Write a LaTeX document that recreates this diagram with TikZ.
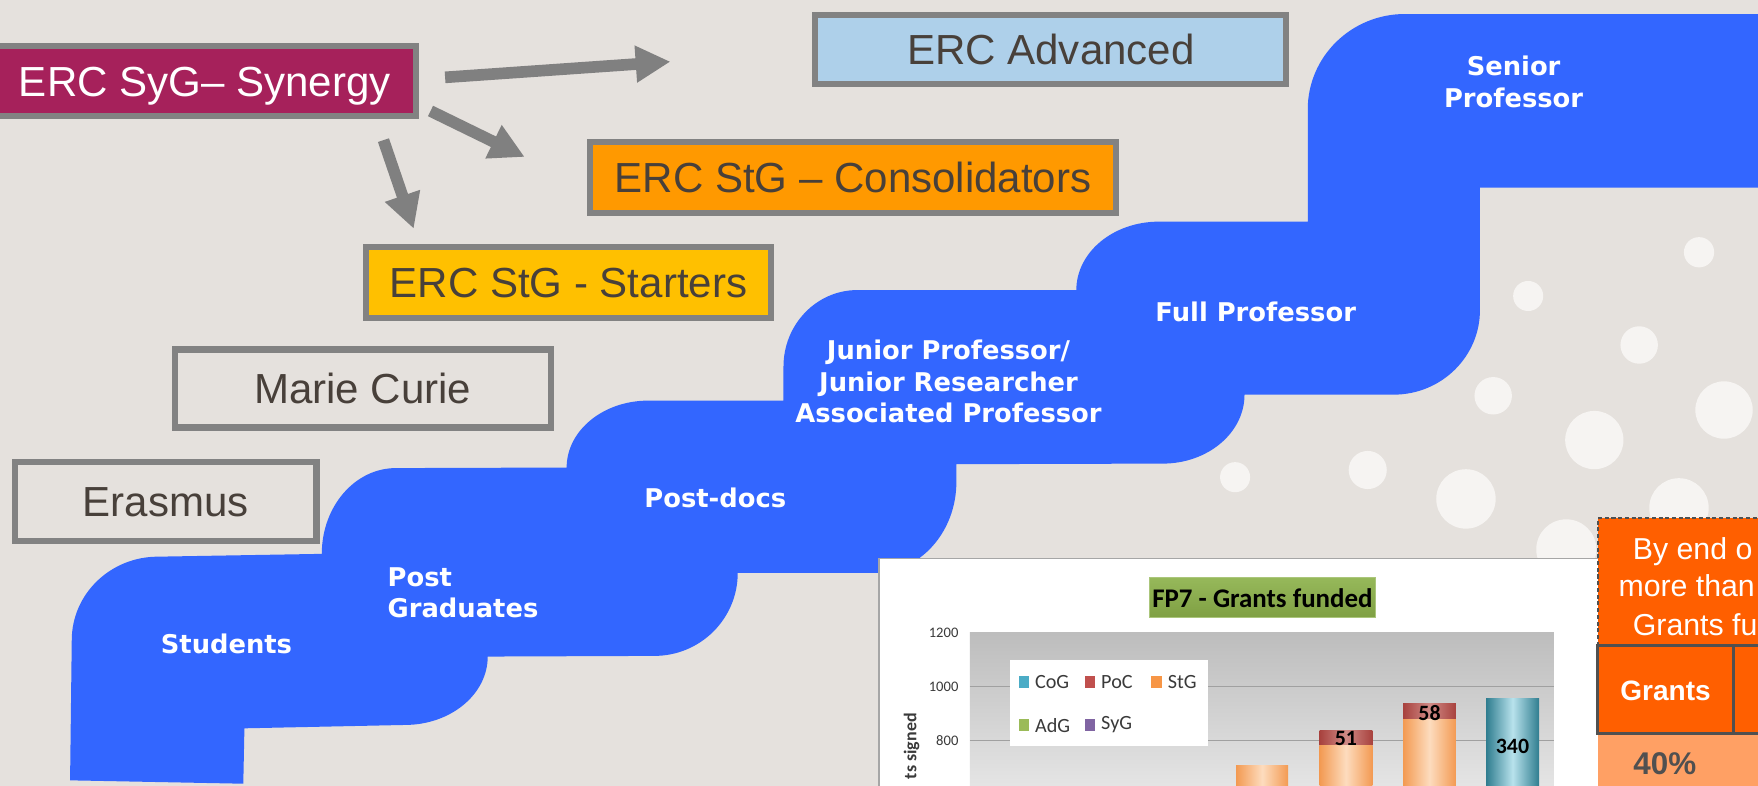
\documentclass[tikz,border=0pt]{standalone}
\usepackage{fontspec}
\setmainfont{Liberation Sans}
\newfontfamily\stepfont{DejaVu Sans}
\newfontfamily\chartfont{Carlito}
\usetikzlibrary{arrows.meta}
\definecolor{bg}{HTML}{E5E1DD}
\definecolor{boxgray}{HTML}{828282}
\definecolor{txtdark}{HTML}{48403A}
\definecolor{sygfill}{HTML}{A6215B}
\definecolor{advfill}{HTML}{AED0EA}
\definecolor{consfill}{HTML}{FF9900}
\definecolor{startfill}{HTML}{FFC000}
\definecolor{arrowgray}{HTML}{808080}
\definecolor{stairblue}{HTML}{3366FF}
\definecolor{dotcol}{HTML}{F6F4F2}
\definecolor{chartborder}{HTML}{A6A6A6}
\definecolor{gridcol}{HTML}{A0A0A0}
\definecolor{orgedge}{HTML}{F39A52}
\definecolor{orgmid}{HTML}{FDDCBE}
\definecolor{capedge}{HTML}{A8423E}
\definecolor{capmid}{HTML}{D08A86}
\definecolor{tealedge}{HTML}{2F7D8F}
\definecolor{tealmid}{HTML}{B8E2EC}
\definecolor{cogcol}{HTML}{4BACC6}
\definecolor{poccol}{HTML}{C0504D}
\definecolor{stgcol}{HTML}{F79646}
\definecolor{adgcol}{HTML}{9BBB59}
\definecolor{sygcol}{HTML}{8064A2}
\definecolor{greentop}{HTML}{96B85A}
\definecolor{greenbot}{HTML}{7FA043}
\definecolor{tblorange}{HTML}{FF5F00}
\definecolor{tbllight}{HTML}{FFA064}
\definecolor{tblborder}{HTML}{505050}
\definecolor{chartxt}{HTML}{3A3A3A}
\begin{document}
\begin{tikzpicture}[x=1pt,y=-1pt,
  ercbox/.style={draw=boxgray, line width=5.4pt, inner sep=0pt, text height=26.8pt, text depth=0pt,
    font=\fontsize{37.5}{40}\selectfont, text=txtdark},
  steplabel/.style={text=white, inner sep=0pt, font=\stepfont\bfseries\fontsize{23}{28.2}\selectfont},
  blockarrow/.style={draw=arrowgray, line width=10.4pt, -{Triangle[length=31pt,width=31pt]}},
  dotshape/.style={fill=dotcol, draw=none},
  ylab/.style={anchor=east, inner sep=0pt, text=chartxt, font=\chartfont\fontsize{13}{15}\selectfont},
  legtext/.style={anchor=west, inner sep=0pt, text=chartxt, font=\chartfont\fontsize{18}{20}\selectfont},
  barlab/.style={inner sep=0pt, text=black, font=\chartfont\bfseries\fontsize{19.5}{21}\selectfont},
  tbltext/.style={anchor=base west, inner sep=0pt, text=white, font=\fontsize{27}{30}\selectfont}
]
\useasboundingbox (0,0) rectangle (1568,701);
\fill[bg] (0,0) rectangle (1568,701);

% background dots
\fill[dotshape] (1515.4,225) circle (13.5);
\fill[dotshape] (1363,264) circle (13.4);
\fill[dotshape] (1462,307.7) circle (16.7);
\fill[dotshape] (1331.8,353) circle (16.7);
\fill[dotshape] (1537.7,365.7) circle (25.6);
\fill[dotshape] (1422,392.5) circle (26);
\fill[dotshape] (1219.9,419.2) circle (17);
\fill[dotshape] (1101.6,425.6) circle (13.4);
\fill[dotshape] (1307.5,445) circle (26.5);
\fill[dotshape] (1497.5,453) circle (26.5);
\fill[dotshape] (1397,490) circle (26.8);

% staircase
\fill[stairblue] (62.5,696) -- (217,699) -- (218,649.6) -- (361,646.6)
  .. controls (401.9,646.6) and (435,619.3) .. (435,585.6)
  -- (583.7,585) .. controls (624.7,585) and (658,551.9) .. (658,511)
  -- (780,511) .. controls (820.3,511) and (853,474.7) .. (853,430)
  -- (853,414) -- (1037,413.5) .. controls (1077.3,413.5) and (1110,386) .. (1110,352)
  -- (1243,352) .. controls (1285.5,352) and (1320,318.2) .. (1320,276.5)
  -- (1320,167.4) -- (1580,167.4) -- (1580,12.5) -- (1253,12.5)
  .. controls (1205.2,12.5) and (1166.4,50.6) .. (1166.4,97.5)
  -- (1166.4,197.7) -- (1033.5,197.7) .. controls (992.9,197.7) and (960,225) .. (960,258.7)
  -- (764.7,258.7) .. controls (728.3,258.7) and (698.8,289.3) .. (698.8,327)
  -- (698.8,357.3) -- (578.3,357.3) .. controls (538,357.3) and (505.4,384) .. (505.4,417)
  -- (353,417.5) .. controls (316.5,417.5) and (287,451.8) .. (287,494)
  -- (140.8,496.5) .. controls (98.4,496.5) and (64,529.9) .. (64,571) -- cycle;

% step labels
\node[steplabel, anchor=base] (students) at (202,583) {Students};
\node[steplabel, anchor=north west, align=left] (postgrad) at (345.6,506) {Post\\Graduates};
\node[steplabel, anchor=base] (postdocs) at (638,453) {Post-docs};
\node[steplabel, anchor=north, align=center] (junior) at (846,303) {Junior Professor/\\Junior Researcher\\Associated Professor};
\node[steplabel, anchor=base] (fullprof) at (1120,287) {Full Professor};
\node[steplabel, anchor=north, align=center] (senior) at (1350,50) {Senior\\Professor};

% ERC boxes
\node[ercbox, fill=sygfill, text=white, minimum width=377.3pt, minimum height=62.4pt] (syg) at (182.6,72.5) {ERC SyG\textendash{} Synergy};
\node[ercbox, fill=advfill, minimum width=420pt, minimum height=62.1pt] (adv) at (937.3,44.15) {ERC Advanced};
\node[ercbox, fill=consfill, minimum width=468.8pt, minimum height=62.7pt] (cons) at (760.9,158.35) {ERC StG \textendash{} Consolidators};
\node[ercbox, fill=startfill, minimum width=360.6pt, minimum height=62.6pt] (start) at (507,252) {ERC StG - Starters};
\node[ercbox, minimum width=335.6pt, minimum height=69.6pt] (marie) at (323.5,346.5) {Marie Curie};
\node[ercbox, minimum width=268.9pt, minimum height=70.1pt] (erasmus) at (147.85,447.25) {Erasmus};

% arrows
\coordinate (a1s) at (397,69);
\coordinate (a1e) at (598,55);
\coordinate (a2s) at (384,99);
\coordinate (a2e) at (468,140);
\coordinate (a3s) at (342,125);
\coordinate (a3e) at (369,204);
\draw[blockarrow] (a1s) -- (a1e);
\draw[blockarrow] (a2s) -- (a2e);
\draw[blockarrow] (a3s) -- (a3e);

% chart
\filldraw[fill=white, draw=chartborder, line width=1.2pt] (784,498) rectangle (1440,730);
\shade[top color=black!26, bottom color=black!6] (865,564) rectangle (1386,740);
\draw[gridcol, line width=1pt] (865,612.4) -- (1386,612.4);
\draw[gridcol, line width=1pt] (865,660.6) -- (1386,660.6);
\node[ylab] (y1200) at (855,564) {1200};
\node[ylab] (y1000) at (855,612.4) {1000};
\node[ylab] (y800) at (855,660.6) {800};
\node[rotate=90, anchor=east, inner sep=0pt, text=chartxt, font=\chartfont\bfseries\fontsize{16}{18}\selectfont] (ytitle) at (813,636) {ts signed};
\node[top color=greentop, bottom color=greenbot, draw=greentop!80!white, line width=1pt, minimum width=202pt, minimum height=35.5pt, inner sep=0pt, font=\chartfont\bfseries\fontsize{24}{26}\selectfont] (title) at (1126,533.2) {FP7 - Grants funded};

% legend
\fill[white] (900.6,589) rectangle (1077,665);
\fill[cogcol] (908.6,602.5) rectangle (917.6,613.5);
\fill[poccol] (968,602.5) rectangle (977,613.5);
\fill[stgcol] (1027,602.5) rectangle (1036,613.5);
\fill[adgcol] (908.6,641.2) rectangle (917.6,652.2);
\fill[sygcol] (968,641.2) rectangle (977,652.2);
\node[legtext] (lcog) at (923,608) {CoG};
\node[legtext] (lpoc) at (982,608) {PoC};
\node[legtext] (lstg) at (1041.4,608) {StG};
\node[legtext] (ladg) at (923,646.7) {AdG};
\node[legtext] (lsyg) at (982,646.7) {SyG};

% bars
\shade[left color=orgedge, right color=orgedge, middle color=orgmid] (1102.6,683.2) rectangle (1149,730);
\shade[left color=capedge, right color=capedge, middle color=capmid] (1177,651.7) rectangle (1224,664.5);
\shade[left color=orgedge, right color=orgedge, middle color=orgmid] (1177,664.5) rectangle (1224,730);
\shade[left color=capedge, right color=capedge, middle color=capmid] (1251.5,627.3) rectangle (1298.6,641.3);
\shade[left color=orgedge, right color=orgedge, middle color=orgmid] (1251.5,641.3) rectangle (1298.6,730);
\shade[left color=tealedge, right color=tealedge, middle color=tealmid] (1325.5,622.8) rectangle (1372.8,730);
\node[barlab] (b51) at (1200.5,659) {51};
\node[barlab] (b58) at (1275,635.6) {58};
\node[barlab] (b340) at (1349,666) {340};

% table
\fill[tblorange] (1425,462.3) rectangle (1580,654);
\fill[tbllight] (1425,654) rectangle (1580,730);
\draw[tblborder, line width=1.8pt, dash pattern=on 3.6pt off 2.4pt] (1425,576) -- (1425,462.3) -- (1580,462.3);
\draw[tblborder, line width=2.4pt] (1425,576) rectangle (1546,654);
\draw[tblborder, line width=2.4pt] (1546,576) -- (1580,576);
\draw[tblborder, line width=2.4pt] (1546,654) -- (1580,654);
\node[tbltext] (t1) at (1456.2,498.9) {By end o};
\node[tbltext] (t2) at (1443.4,532.2) {more than};
\node[tbltext] (t3) at (1456.2,566.4) {Grants fu};
\node[anchor=base, inner sep=0pt, text=white, font=\bfseries\fontsize{25}{28}\selectfont] (tgrants) at (1485.5,625) {Grants};
\node[anchor=base west, inner sep=0pt, text=tblborder, font=\bfseries\fontsize{28}{30}\selectfont] (t40) at (1456.6,691) {40\%};
\end{tikzpicture}
\end{document}
